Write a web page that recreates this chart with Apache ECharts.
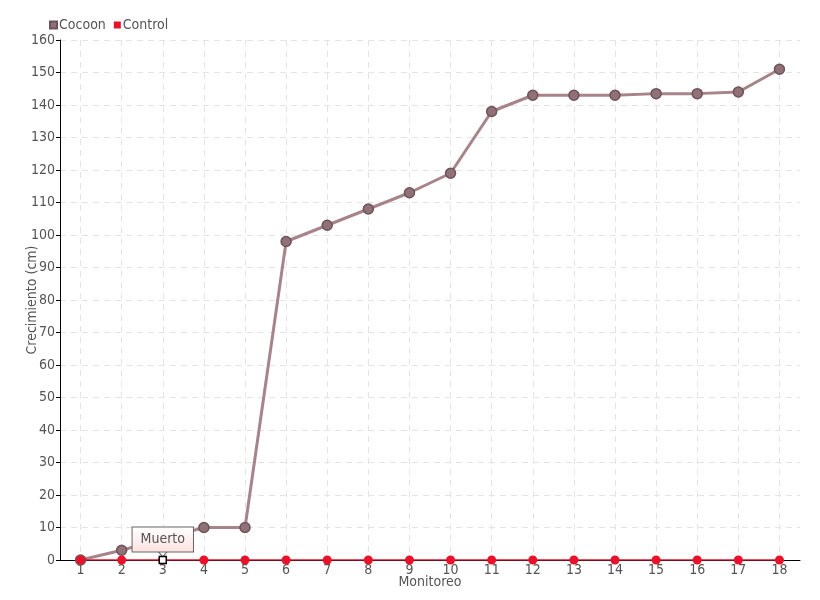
<!DOCTYPE html>
<html>
<head>
<meta charset="utf-8">
<script src="https://cdn.jsdelivr.net/npm/echarts@6/dist/echarts.min.js"></script>
<style>
  html, body { margin: 0; padding: 0; background: #fff; }
  #chart { width: 820px; height: 600px; }
</style>
</head>
<body>
<div id="chart"></div>
<script>
var monitoreo = ['1', '2', '3', '4', '5', '6', '7', '8', '9', '10', '11', '12', '13', '14', '15', '16', '17', '18']
var cocoon = [0, 3, 6.5, 10, 10, 98, 103, 108, 113, 119, 138, 143, 143, 143, 143.5, 143.5, 144, 151]
var control = [0, 0, 0, 0, 0, 0, 0, 0, 0, 0, 0, 0, 0, 0, 0, 0, 0, 0]
var yTicks = { min: 0, max: 160, interval: 10 }

var fontFam = '"Liberation Sans Narrow", "DejaVu Sans Condensed", sans-serif'
var textGray = '#555'

var chart = echarts.init(document.getElementById('chart'))
chart.setOption({
  animation: false,
  textStyle: { fontFamily: fontFam },
  legend: {
    left: 44,
    top: 13,
    itemWidth: 7,
    itemHeight: 7,
    itemGap: 8,
    icon: 'rect',
    textStyle: { color: textGray, fontSize: 14, fontFamily: fontFam, padding: [0, 0, 0, -3] },
    data: ['Cocoon', 'Control']
  },
  grid: { left: 60, right: 20, top: 40, bottom: 40, containLabel: false, outerBoundsMode: 'none' },
  xAxis: {
    type: 'category',
    data: monitoreo,
    name: 'Monitoreo',
    nameLocation: 'middle',
    nameGap: 15,
    nameMoveOverlap: false,
    nameTextStyle: { color: textGray, fontSize: 14 },
    axisLine: { lineStyle: { color: '#000', width: 1 } },
    axisTick: { show: false, alignWithLabel: true },
    axisLabel: { color: textGray, fontSize: 14, margin: 3 },
    splitLine: { show: true, alignWithLabel: true, lineStyle: { color: '#e4e4e4', type: [6, 5] } }
  },
  yAxis: {
    type: 'value',
    min: yTicks.min,
    max: yTicks.max,
    interval: yTicks.interval,
    name: 'Crecimiento (cm)',
    nameLocation: 'middle',
    nameGap: 21,
    nameMoveOverlap: false,
    nameTextStyle: { color: textGray, fontSize: 14 },
    axisLine: { show: true, lineStyle: { color: '#000', width: 1 } },
    axisTick: { show: true, length: 4, lineStyle: { color: '#000' } },
    axisLabel: { color: textGray, fontSize: 14, margin: 5 },
    splitLine: { show: true, lineStyle: { color: '#e4e4e4', type: [6, 5] } }
  },
  series: [
    {
      name: 'Cocoon',
      type: 'line',
      data: cocoon,
      symbol: 'circle',
      symbolSize: 10,
      z: 2,
      lineStyle: { color: '#a6848a', width: 3 },
      itemStyle: { color: '#8f7177', borderColor: '#6e5359', borderWidth: 1.5 }
    },
    {
      name: 'Control',
      type: 'line',
      data: control,
      symbol: 'circle',
      symbolSize: 9,
      z: 3,
      lineStyle: { color: '#e8132a', width: 1.5 },
      itemStyle: { color: '#e8132a', borderColor: '#e8132a', borderWidth: 0 },
      markPoint: {
        z: 10,
        data: [
          {
            coord: ['3', 0],
            symbol: 'triangle',
            symbolSize: [10, 6],
            symbolRotate: 180,
            symbolOffset: [0, -6],
            itemStyle: { color: '#fff', borderColor: '#666', borderWidth: 1 },
            label: {
              show: true,
              position: 'top',
              distance: -1,
              formatter: 'Muerto',
              color: textGray,
              fontSize: 14,
              fontFamily: fontFam,
              padding: [5, 8, 5, 8],
              borderColor: '#666',
              borderWidth: 1,
              backgroundColor: {
                type: 'linear', x: 0, y: 0, x2: 0, y2: 1,
                colorStops: [{ offset: 0, color: '#ffffff' }, { offset: 1, color: '#fde0e0' }]
              }
            }
          },
          {
            coord: ['3', 0],
            symbol: 'rect',
            symbolSize: 7,
            itemStyle: { color: '#fff', borderColor: '#000', borderWidth: 1.5 },
            label: { show: false }
          }
        ]
      }
    }
  ]
})
</script>
</body>
</html>
